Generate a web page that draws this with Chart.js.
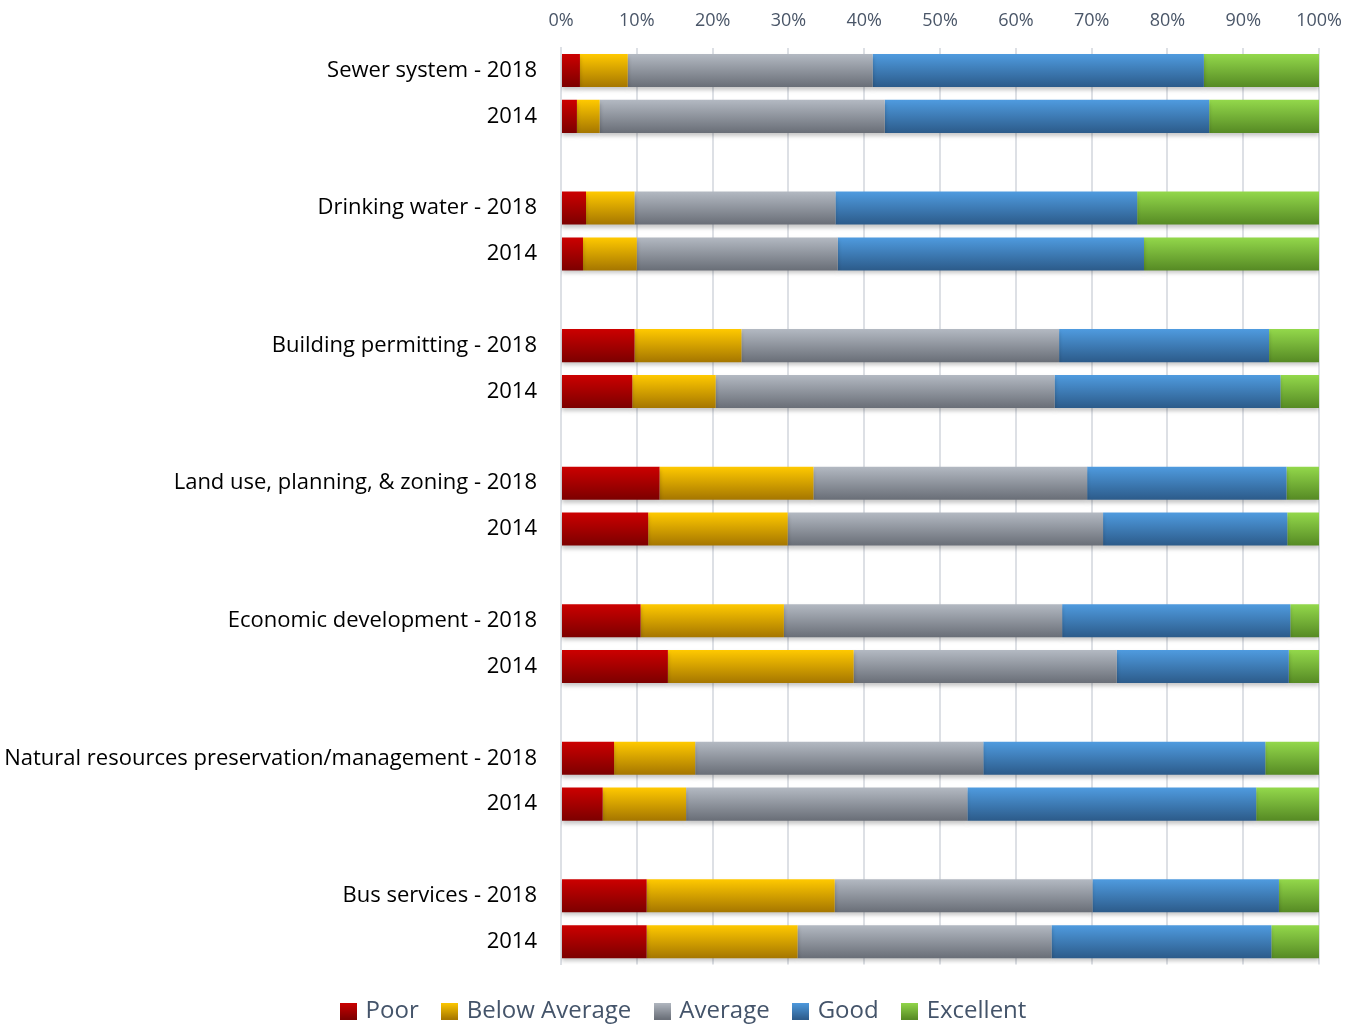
<!DOCTYPE html>
<html>
<head>
<meta charset="utf-8">
<script src="https://cdn.jsdelivr.net/npm/chart.js@4/dist/chart.umd.min.js"></script>
<style>
  body { margin: 0; background: #fff; }
  #wrap { width: 1358px; height: 1026px; position: relative; }
</style>
</head>
<body>
<div id="wrap"><canvas id="ratingsChart"></canvas></div>
<script>
// categories (blank rows split the groups)
const categories = [
    'Sewer system - 2018', '2014', '',
    'Drinking water - 2018', '2014', '',
    'Building permitting - 2018', '2014', '',
    'Land use, planning, & zoning - 2018', '2014', '',
    'Economic development - 2018', '2014', '',
    'Natural resources preservation/management - 2018', '2014', '',
    'Bus services - 2018', '2014'
];

const seriesNames = ['Poor', 'Below Average', 'Average', 'Good', 'Excellent'];

const poor      = [2.5, 2.1, null, 3.3, 2.9, null, 9.7, 9.4, null, 13.0, 11.5, null, 10.5, 14.1, null, 7.0, 5.5, null, 11.3, 11.3];
const belowAvg  = [6.3, 3.0, null, 6.4, 7.1, null, 14.1, 11.0, null, 20.3, 18.4, null, 18.9, 24.5, null, 10.7, 11.0, null, 24.8, 19.9];
const average   = [32.3, 37.6, null, 26.5, 26.5, null, 41.9, 44.7, null, 36.1, 41.6, null, 36.7, 34.7, null, 38.0, 37.1, null, 34.0, 33.5];
const good      = [43.7, 42.8, null, 39.8, 40.4, null, 27.7, 29.8, null, 26.3, 24.3, null, 30.1, 22.7, null, 37.2, 38.1, null, 24.6, 29.0];
const excellent = [15.2, 14.5, null, 24.0, 23.1, null, 6.6, 5.1, null, 4.3, 4.2, null, 3.8, 4.0, null, 7.1, 8.3, null, 5.3, 6.3];

const xTicks = [0, 10, 20, 30, 40, 50, 60, 70, 80, 90, 100];

const FONT = "'Open Sans', sans-serif";
const BAR_PCT = 0.72;

// top -> bottom colours of each series
const shades = [
    ['#cc0000', '#7c0000'],
    ['#ffc900', '#a57600'],
    ['#b3b9c2', '#696e77'],
    ['#4f9bdf', '#2c5b8a'],
    ['#93d84b', '#568a24']
];

function barGradient(top, bottom) {
    return function(c) {
        const chart = c.chart;
        const y = chart.scales.y;
        if (!y || !chart.chartArea || c.dataIndex === undefined) return bottom;
        const cy = y.getPixelForValue(c.dataIndex);
        const h = y.height / categories.length * BAR_PCT;
        const g = chart.ctx.createLinearGradient(0, cy - h / 2, 0, cy + h / 2);
        g.addColorStop(0, top);
        g.addColorStop(1, bottom);
        return g;
    };
}

function swatch(top, bottom) {
    const cv = document.createElement('canvas');
    cv.width = 17; cv.height = 17;
    const cx = cv.getContext('2d');
    const g = cx.createLinearGradient(0, 0, 0, 17);
    g.addColorStop(0, top);
    g.addColorStop(1, bottom);
    cx.fillStyle = g;
    cx.fillRect(0, 0, 17, 17);
    return cv;
}

const values = [poor, belowAvg, average, good, excellent];

// soft shadow under the bars
const barShadow = {
    id: 'barShadow',
    beforeDatasetsDraw(chart) {
        const ctx = chart.ctx;
        ctx.save();
        ctx.shadowColor = 'rgba(0,0,0,0.22)';
        ctx.shadowBlur = 4;
        ctx.shadowOffsetY = 3;
    },
    afterDatasetsDraw(chart) {
        chart.ctx.restore();
    }
};

// nudge the legend down and right
const legendShift = {
    id: 'legendShift',
    afterLayout(chart) {
        const lg = chart.legend;
        if (lg) {
            lg.top += 8.4;
            lg.bottom += 8.4;
            lg.left += 25;
            lg.right += 25;
        }
    }
};

new Chart(document.getElementById('ratingsChart'), {
    type: 'bar',
    data: {
        labels: categories,
        datasets: seriesNames.map((name, i) => ({
            label: name,
            data: values[i],
            backgroundColor: barGradient(shades[i][0], shades[i][1]),
            borderWidth: 0,
            barPercentage: BAR_PCT,
            categoryPercentage: 1
        }))
    },
    options: {
        indexAxis: 'y',
        responsive: true,
        maintainAspectRatio: false,
        animation: false,
        devicePixelRatio: 1,
        layout: { padding: { left: 0, right: 38, top: 0, bottom: 1.4 } },
        scales: {
            x: {
                position: 'top',
                stacked: true,
                min: 0,
                max: 100,
                afterBuildTicks: s => { s.ticks = xTicks.map(v => ({ value: v })); },
                afterFit: s => { s.height = 47.6; },
                ticks: {
                    callback: v => v + '%',
                    color: '#4a5668',
                    font: { family: FONT, size: 18 },
                    padding: 16,
                    maxRotation: 0
                },
                grid: { color: '#dde0e5', lineWidth: 2, drawTicks: false },
                border: { display: false }
            },
            y: {
                stacked: true,
                afterFit: s => { s.width = 561; },
                ticks: {
                    color: '#000',
                    font: { family: FONT, size: 22 },
                    padding: 24,
                    autoSkip: false
                },
                grid: { display: false, drawTicks: false },
                border: { display: true, color: '#dde0e5', width: 2 }
            }
        },
        plugins: {
            legend: {
                position: 'bottom',
                labels: {
                    usePointStyle: true,
                    boxWidth: 10,
                    boxHeight: 10,
                    padding: 26,
                    color: '#44546a',
                    font: { family: FONT, size: 24 },
                    generateLabels: chart => chart.data.datasets.map((ds, i) => ({
                        text: ds.label,
                        fillStyle: shades[i][1],
                        strokeStyle: 'transparent',
                        lineWidth: 0,
                        pointStyle: swatch(shades[i][0], shades[i][1]),
                        hidden: false,
                        datasetIndex: i,
                        fontColor: '#44546a'
                    }))
                }
            },
            tooltip: { enabled: false }
        }
    },
    plugins: [barShadow, legendShift]
});
</script>
</body>
</html>
